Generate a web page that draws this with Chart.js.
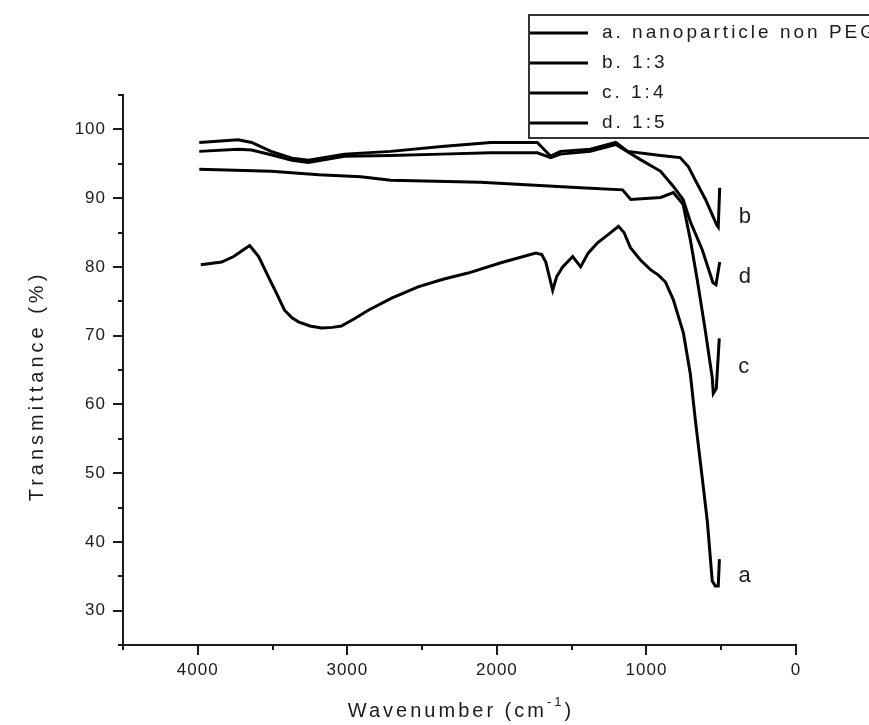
<!DOCTYPE html>
<html>
<head>
<meta charset="utf-8">
<script src="https://cdn.jsdelivr.net/npm/chart.js@4.4.1/dist/chart.umd.min.js"></script>
<style>
  html, body { margin: 0; padding: 0; background: #fff; }
  canvas { display: block; }
</style>
</head>
<body>
<canvas id="ftir" width="869" height="725"></canvas>
<script>
const seriesNames = ["a. nanoparticle non PEG", "b. 1:3", "c. 1:4", "d. 1:5"];
const curveTags = ["a", "b", "c", "d"];
const tagLevels = [35.0, 87.2, 65.4, 78.5];

const waveA = [3980, 3840, 3760, 3653, 3593, 3527, 3470, 3420, 3370, 3327, 3250, 3173, 3100, 3040, 2950, 2860, 2700, 2527, 2360, 2193, 1973, 1740, 1700, 1673, 1627, 1600, 1560, 1493, 1440, 1390, 1327, 1250, 1187, 1150, 1107, 1040, 973, 920, 873, 820, 753, 707, 673, 627, 593, 560, 540, 520, 512];
const transA = [80.3, 80.7, 81.5, 83.1, 81.5, 78.5, 76.0, 73.7, 72.6, 72.0, 71.4, 71.1, 71.2, 71.4, 72.5, 73.7, 75.5, 77.1, 78.2, 79.1, 80.6, 82.0, 81.8, 80.7, 76.6, 78.6, 80.0, 81.5, 80.0, 82.0, 83.5, 84.8, 85.9, 85.0, 82.8, 81.0, 79.6, 78.8, 77.8, 75.2, 70.4, 64.5, 57.7, 49.3, 43.0, 34.3, 33.6, 33.6, 37.5];

const waveB = [3990, 3730, 3640, 3510, 3370, 3260, 3020, 2710, 2370, 2040, 1730, 1640, 1575, 1375, 1205, 1125, 905, 775, 720, 675, 605, 530, 520, 510];
const transB = [98.1, 98.5, 98.1, 96.8, 95.8, 95.5, 96.4, 96.8, 97.5, 98.1, 98.1, 96.1, 96.8, 97.1, 98.1, 96.8, 96.2, 95.9, 94.6, 92.7, 89.8, 86.1, 85.8, 91.5];

const waveC = [3990, 3510, 3190, 2910, 2710, 2110, 1440, 1160, 1105, 905, 820, 755, 707, 660, 607, 560, 553, 533, 513];
const transC = [94.2, 93.9, 93.4, 93.1, 92.6, 92.3, 91.5, 91.2, 89.8, 90.1, 90.8, 89.1, 84.0, 78.1, 70.8, 63.9, 61.6, 62.3, 69.6];

const waveD = [3990, 3730, 3640, 3510, 3370, 3260, 3020, 2710, 2370, 2040, 1730, 1640, 1575, 1375, 1205, 1040, 905, 820, 755, 707, 627, 555, 535, 510];
const transD = [96.8, 97.1, 97.0, 96.3, 95.5, 95.2, 96.1, 96.2, 96.4, 96.6, 96.6, 95.9, 96.4, 96.8, 97.8, 95.6, 93.9, 91.7, 89.8, 86.6, 82.5, 77.7, 77.4, 80.7];

const FONT = '"Liberation Sans", Arial, sans-serif';
const INK = "#1b1b1b";

function pairs(xs, ys) {
  return xs.map((v, i) => ({ x: v, y: ys[i] }));
}

function line(label, xs, ys) {
  return {
    label: label,
    data: pairs(xs, ys),
    borderColor: "#000",
    borderWidth: 3,
    pointRadius: 0,
    tension: 0,
    fill: false
  };
}

// tick marks: long on labelled values, short in between
const tickMarks = {
  id: "tickMarks",
  afterDraw(chart) {
    const { ctx, chartArea } = chart;
    const x = chart.scales.x, y = chart.scales.y;
    ctx.save();
    ctx.strokeStyle = INK;
    ctx.lineWidth = 2;
    y.ticks.forEach(t => {
      const py = Math.round(y.getPixelForValue(t.value));
      const len = t.value % 10 === 0 ? 10 : 5;
      ctx.beginPath();
      ctx.moveTo(chartArea.left - len, py);
      ctx.lineTo(chartArea.left, py);
      ctx.stroke();
    });
    x.ticks.forEach(t => {
      const px = Math.round(x.getPixelForValue(t.value));
      const len = t.value % 1000 === 0 ? 10 : 5;
      ctx.beginPath();
      ctx.moveTo(px, chartArea.bottom);
      ctx.lineTo(px, chartArea.bottom + len);
      ctx.stroke();
    });
    ctx.restore();
  }
};

// axis titles, legend box and the letters at the curve ends
const annotations = {
  id: "annotations",
  afterDraw(chart) {
    const { ctx } = chart;
    const x = chart.scales.x, y = chart.scales.y;
    ctx.save();
    ctx.fillStyle = INK;
    ctx.textBaseline = "middle";

    // y title
    ctx.save();
    ctx.translate(37, 386);
    ctx.rotate(-Math.PI / 2);
    ctx.font = "20px " + FONT;
    ctx.letterSpacing = "4px";
    ctx.textAlign = "center";
    ctx.fillText("Transmittance (%)", 0, 0);
    ctx.restore();

    // x title with superscript
    ctx.font = "20px " + FONT;
    ctx.letterSpacing = "3px";
    ctx.textAlign = "left";
    const main = "Wavenumber (cm";
    const sup = "-1";
    const close = ")";
    const wMain = ctx.measureText(main).width;
    ctx.font = "13px " + FONT;
    const wSup = ctx.measureText(sup).width;
    ctx.font = "20px " + FONT;
    const wClose = ctx.measureText(close).width;
    let sx = 461 - (wMain + wSup + wClose) / 2;
    const ty = 711;
    ctx.fillText(main, sx, ty);
    sx += wMain;
    ctx.font = "13px " + FONT;
    ctx.fillText(sup, sx, ty - 9);
    sx += wSup;
    ctx.font = "20px " + FONT;
    ctx.fillText(close, sx, ty);

    // legend
    ctx.fillStyle = "#fff";
    ctx.fillRect(529, 15, 400, 123);
    ctx.strokeStyle = "#333";
    ctx.lineWidth = 2;
    ctx.strokeRect(529, 15, 400, 123);
    ctx.font = "19px " + FONT;
    ctx.letterSpacing = "3px";
    chart.data.datasets.forEach((ds, i) => {
      const ly = 33 + i * 30;
      ctx.strokeStyle = "#000";
      ctx.lineWidth = 3;
      ctx.beginPath();
      ctx.moveTo(530, ly);
      ctx.lineTo(588, ly);
      ctx.stroke();
      ctx.fillStyle = INK;
      ctx.fillText(ds.label, 602, ly);
    });

    // curve-end letters
    ctx.font = "22px " + FONT;
    ctx.letterSpacing = "0px";
    chart.data.datasets.forEach((ds, i) => {
      const last = ds.data[ds.data.length - 1];
      const px = x.getPixelForValue(last.x) + 19;
      const py = y.getPixelForValue(tagLevels[i]);
      ctx.fillText(curveTags[i], px, py);
    });
    ctx.restore();
  }
};

// a little extra spacing in tick labels, as in the exported figure
const spacing = {
  id: "spacing",
  beforeDraw(chart) {
    chart.ctx.letterSpacing = "1px";
  }
};

new Chart(document.getElementById("ftir"), {
  type: "line",
  data: {
    datasets: [
      line(seriesNames[0], waveA, transA),
      line(seriesNames[1], waveB, transB),
      line(seriesNames[2], waveC, transC),
      line(seriesNames[3], waveD, transD)
    ]
  },
  options: {
    responsive: false,
    animation: false,
    devicePixelRatio: 1,
    layout: { padding: { left: 0, right: 73, top: 95, bottom: 0 } },
    plugins: {
      legend: { display: false },
      tooltip: { enabled: false }
    },
    scales: {
      x: {
        type: "linear",
        reverse: true,
        min: 0,
        max: 4500,
        afterFit: s => { s.height = 80; },
        grid: { display: true, drawOnChartArea: false, drawTicks: false },
        border: { display: true, color: INK, width: 2 },
        ticks: {
          stepSize: 500,
          autoSkip: false,
          maxRotation: 0,
          padding: 15,
          color: INK,
          font: { family: FONT, size: 17 },
          callback: v => (v % 1000 === 0 && v <= 4000 ? String(v) : "")
        }
      },
      y: {
        min: 25,
        max: 105,
        afterFit: s => { s.width = 123; },
        grid: { display: true, drawOnChartArea: false, drawTicks: false },
        border: { display: true, color: INK, width: 2 },
        ticks: {
          stepSize: 5,
          autoSkip: false,
          padding: 17,
          color: INK,
          font: { family: FONT, size: 17 },
          callback: v => (v % 10 === 0 && v >= 30 && v <= 100 ? String(v) : "")
        }
      }
    }
  },
  plugins: [spacing, tickMarks, annotations]
});
</script>
</body>
</html>
